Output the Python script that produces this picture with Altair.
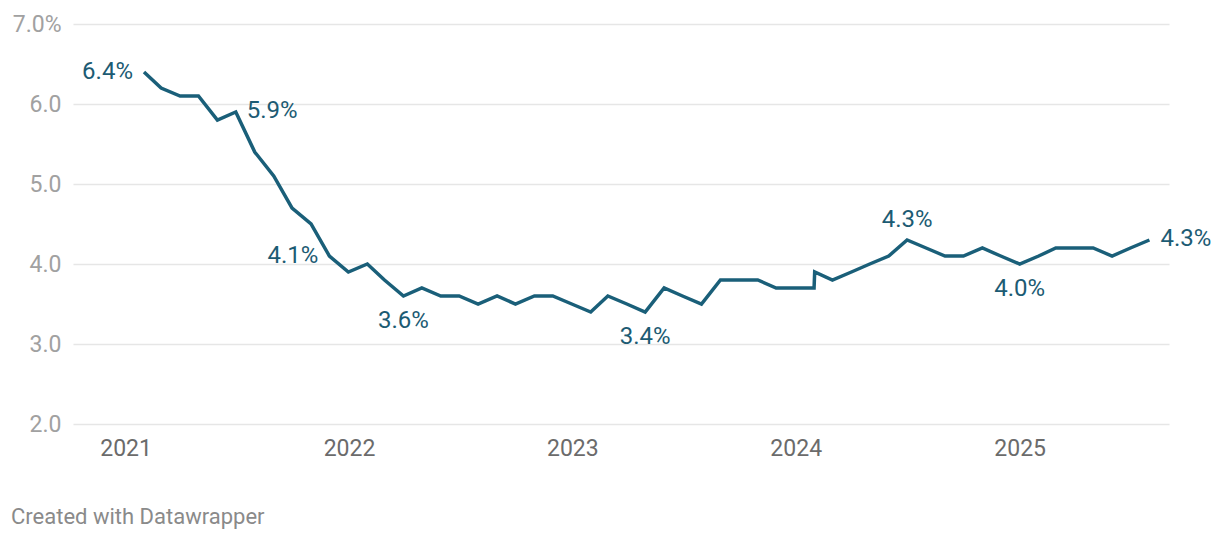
import altair as alt
import pandas as pd

# Monthly unemployment rate (%)
dates = [
    "2021-01-31", "2021-02-28", "2021-03-31", "2021-04-30", "2021-05-31", "2021-06-30",
    "2021-07-31", "2021-08-31", "2021-09-30", "2021-10-31", "2021-11-30", "2021-12-31",
    "2022-01-31", "2022-02-28", "2022-03-31", "2022-04-30", "2022-05-31", "2022-06-30",
    "2022-07-31", "2022-08-31", "2022-09-30", "2022-10-31", "2022-11-30", "2022-12-31",
    "2023-01-31", "2023-02-28", "2023-03-31", "2023-04-30", "2023-05-31", "2023-06-30",
    "2023-07-31", "2023-08-31", "2023-09-30", "2023-10-31", "2023-11-30", "2023-12-31",
    "2024-01-31", "2024-02-01", "2024-03-01", "2024-04-01", "2024-05-01", "2024-06-01",
    "2024-07-01", "2024-08-01", "2024-09-01", "2024-10-01", "2024-11-01", "2024-12-01",
    "2025-01-01", "2025-02-01", "2025-03-01", "2025-04-01", "2025-05-01", "2025-06-01",
    "2025-07-01", "2025-08-01",
]
rates = [
    6.4, 6.2, 6.1, 6.1, 5.8, 5.9, 5.4, 5.1, 4.7, 4.5, 4.1, 3.9,
    4.0, 3.8, 3.6, 3.7, 3.6, 3.6, 3.5, 3.6, 3.5, 3.6, 3.6, 3.5,
    3.4, 3.6, 3.5, 3.4, 3.7, 3.6, 3.5, 3.8, 3.8, 3.8, 3.7, 3.7,
    3.7, 3.9, 3.8, 3.9, 4.0, 4.1, 4.3, 4.2, 4.1, 4.1, 4.2, 4.1,
    4.0, 4.1, 4.2, 4.2, 4.2, 4.1, 4.2, 4.3,
]

# Annotated points
ann_dates = ["2021-01-31", "2021-06-30", "2021-11-30", "2022-03-31",
             "2023-04-30", "2024-07-01", "2025-01-01", "2025-08-01"]
ann_values = [6.4, 5.9, 4.1, 3.6, 3.4, 4.3, 4.0, 4.3]
ann_labels = ["6.4%", "5.9%", "4.1%", "3.6%", "3.4%", "4.3%", "4.0%", "4.3%"]
ann_side = ["left", "right", "left", "below", "below", "above", "below", "right"]

years = [2021, 2022, 2023, 2024, 2025]
y_ticks = [2, 3, 4, 5, 6, 7]

LINE = "#1a5f79"
TEXT = "#1c5b73"
FONT = "Roboto"
FS = 23
AFS = 24

df = pd.DataFrame({"date": dates, "rate": rates})
ann = pd.DataFrame({"date": ann_dates, "rate": ann_values, "label": ann_labels, "side": ann_side})

x_scale = alt.Scale(
    type="utc",
    domain=[alt.DateTime(year=2020, month=10, date=7, utc=True),
            alt.DateTime(year=2025, month=9, date=2, utc=True)],
)
y_scale = alt.Scale(domain=[2, 7], nice=False, zero=False)

x_axis = alt.Axis(
    title=None,
    values=[alt.DateTime(year=y, month=1, date=1, utc=True) for y in years],
    labelExpr="utcFormat(datum.value, '%Y')",
    grid=False, ticks=False, domain=False,
    labelFontSize=FS, labelColor="#6b6b6b", labelPadding=13, labelFont=FONT,
)
y_axis = alt.Axis(
    title=None,
    values=y_ticks,
    labelExpr="datum.value == 7 ? '7.0%' : format(datum.value, '.1f')",
    grid=True, gridColor="#e6e6e6", gridWidth=1.5,
    ticks=False, domain=False,
    labelFontSize=FS, labelColor="#a1a1a1", labelPadding=12, labelFont=FONT,
    labelBaseline="middle",
)

line = alt.Chart(df).mark_line(color=LINE, strokeWidth=3.5, strokeJoin="miter").encode(
    x=alt.X("date:T", scale=x_scale, axis=x_axis),
    y=alt.Y("rate:Q", scale=y_scale, axis=y_axis),
)

base_ann = alt.Chart(ann).encode(
    x=alt.X("date:T", scale=x_scale),
    y=alt.Y("rate:Q", scale=y_scale),
    text="label:N",
)
txt = dict(font=FONT, fontSize=AFS, color=TEXT)
left = base_ann.transform_filter(alt.datum.side == "left").mark_text(
    align="right", baseline="middle", dx=-11, **txt)
right = base_ann.transform_filter(alt.datum.side == "right").mark_text(
    align="left", baseline="middle", dx=11, dy=-1, **txt)
below = base_ann.transform_filter(alt.datum.side == "below").mark_text(
    align="center", baseline="middle", dy=25, **txt)
above = base_ann.transform_filter(alt.datum.side == "above").mark_text(
    align="center", baseline="middle", dy=-20, **txt)

footer = alt.Chart(pd.DataFrame({"t": ["Created with Datawrapper"]})).mark_text(
    align="left", baseline="middle", font=FONT, fontSize=22, color="#8a8a8a"
).encode(text="t:N", x=alt.value(-62), y=alt.value(493))

chart = alt.layer(line, left, right, below, above, footer).properties(
    width=1096, height=400,
    padding={"left": 65, "top": 16, "right": 43, "bottom": 108},
    autosize=alt.AutoSizeParams(type="none"),
    background="white",
).configure_view(stroke=None)

chart.save("out.html", embed_options={"renderer": "svg", "actions": False})
